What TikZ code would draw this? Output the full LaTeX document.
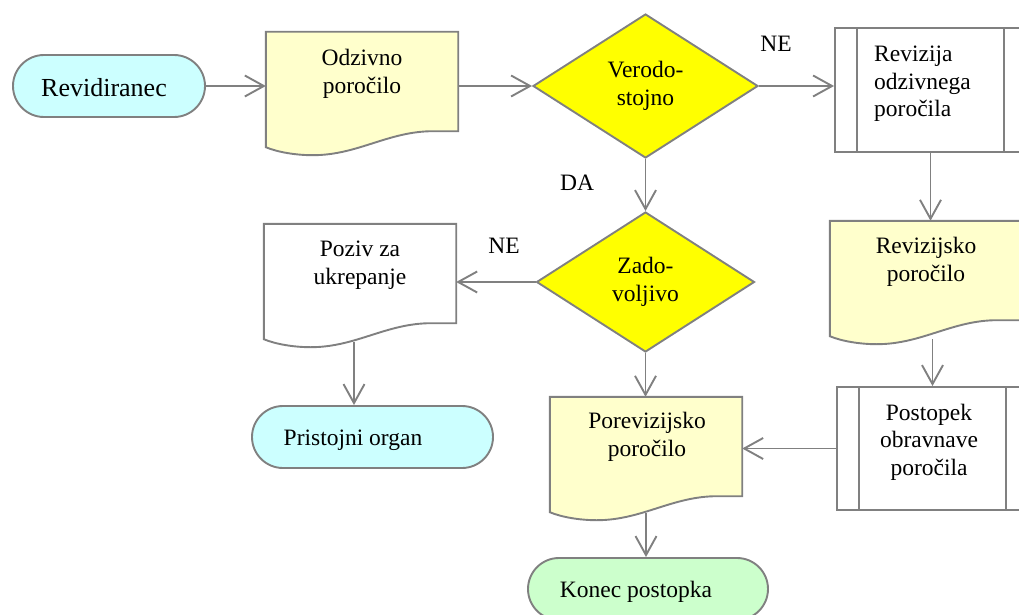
\documentclass[tikz,border=0pt]{standalone}
\usepackage{fontspec}
\setmainfont{Liberation Serif}
\usetikzlibrary{shapes.geometric,arrows.meta,calc}
\definecolor{lgray}{HTML}{808080}
\definecolor{termcyan}{HTML}{CCFFFF}
\definecolor{termgreen}{HTML}{CCFFCC}
\definecolor{docyellow}{HTML}{FFFFCC}
\definecolor{decyellow}{HTML}{FFFF00}
\newcommand\docoutline[2]{%
  \path[gline, fill=#2] (#1.north west) -- (#1.north east) -- ([yshift=24pt]#1.south east)
    -- ([xshift=-25pt,yshift=24pt]#1.south east)
    .. controls ([xshift=-70pt,yshift=24pt]#1.south east) and ([xshift=92pt]#1.south west) .. ([xshift=47pt]#1.south west)
    .. controls ([xshift=30pt]#1.south west) and ([xshift=12pt,yshift=3pt]#1.south west) .. ([yshift=8pt]#1.south west)
    -- cycle;}
\newcommand\procbars[1]{%
  \draw[gline] ([xshift=23pt]#1.north west) -- ([xshift=23pt]#1.south west)
               ([xshift=-23pt]#1.north east) -- ([xshift=-23pt]#1.south east);}
\begin{document}
\begin{tikzpicture}[x=1pt,y=-1pt,
  gline/.style={draw=lgray, line width=1.9pt},
  arr/.style={gline, -{Straight Barb[length=19pt,width=21pt,line width=1.9pt]}},
  txt/.style={font=\fontsize{23.5}{27.5}\selectfont, align=center, inner sep=0pt},
  term/.style={gline, rectangle, rounded corners=31pt, minimum height=62pt, inner sep=0pt},
  docbox/.style={rectangle, minimum width=192pt, minimum height=123pt, inner sep=0pt},
  decis/.style={gline, diamond, fill=decyellow, txt},
  proc/.style={gline, rectangle, fill=white, minimum width=191pt, inner sep=0pt}
]
\useasboundingbox (0,0) rectangle (1019,615);
\clip (0,0) rectangle (1019,615);

% terminals
\node[term, fill=termcyan, minimum width=192pt] (rev) at (109,86) {};
\node[txt, font=\fontsize{26}{30}\selectfont, anchor=base] (revT) at (104,97) {Revidiranec};
\node[term, fill=termcyan, minimum width=241pt] (prist) at (372.5,437) {};
\node[txt, anchor=base] (pristT) at (353,445) {Pristojni organ};
\node[term, fill=termgreen, minimum width=240pt] (konec) at (648,589) {};
\node[txt, anchor=base] (konecT) at (636,597) {Konec postopka};

% documents
\node[docbox] (odz) at (362,93.5) {};
\docoutline{odz}{docyellow}
\node[txt] (odzT) at (362,73.8) {Odzivno\\poročilo};

\node[docbox] (revsk) at (926,282.5) {};
\docoutline{revsk}{docyellow}
\node[txt] (revskT) at (926,262) {Revizijsko\\poročilo};

\node[docbox] (poziv) at (360,285.5) {};
\docoutline{poziv}{white}
\node[txt] (pozivT) at (360,265) {Poziv za\\ukrepanje};

\node[docbox] (por) at (646,458.5) {};
\docoutline{por}{docyellow}
\node[txt] (porT) at (647,437) {Porevizijsko\\poročilo};

% decisions
\node[decis, minimum width=225pt, minimum height=144pt] (vero) at (645.5,86) {Verodo-\\stojno};
\node[decis, minimum width=218pt, minimum height=140pt] (zado) at (645.5,282) {Zado-\\voljivo};

% predefined processes
\node[proc, minimum height=124pt] (revz) at (930.5,90) {};
\procbars{revz}
\node[txt, align=left, anchor=west] (revzT) at (874,84) {Revizija\\odzivnega\\poročila};
\node[proc, minimum height=123pt] (post) at (932.5,448.5) {};
\procbars{post}
\node[txt] (postT) at (929,442) {Postopek\\obravnave\\poročila};

% labels
\node[txt, anchor=base] (ne1) at (776,52) {NE};
\node[txt, anchor=base] (da) at (577,190) {DA};
\node[txt, anchor=base] (ne2) at (504,253) {NE};

% connectors
\draw[arr] (rev.east) -- (rev.east -| odz.west);
\draw[arr] (vero.west -| odz.east) -- (vero.west);
\draw[arr] (vero.east) -- (vero.east -| revz.west);
\draw[arr] (vero.south) -- (vero.south |- zado.north);
\draw[arr] (zado.west) -- (zado.west -| poziv.east);
\draw[arr] (zado.south) -- (zado.south |- por.north);
\draw[arr] (revz.south) -- (revz.south |- revsk.north);
\draw[arr] ($(post.north |- revsk.south)+(0,-5)$) -- (post.north);
\draw[arr] (post.west) -- (post.west -| por.east);
\draw[arr] ($(por.south)+(0,-7)$) -- (por.south |- konec.north);
\draw[arr] ($(poziv.south)+(-6,-5)$) -- ($(poziv.south |- prist.north)+(-6,0)$);
\end{tikzpicture}
\end{document}
